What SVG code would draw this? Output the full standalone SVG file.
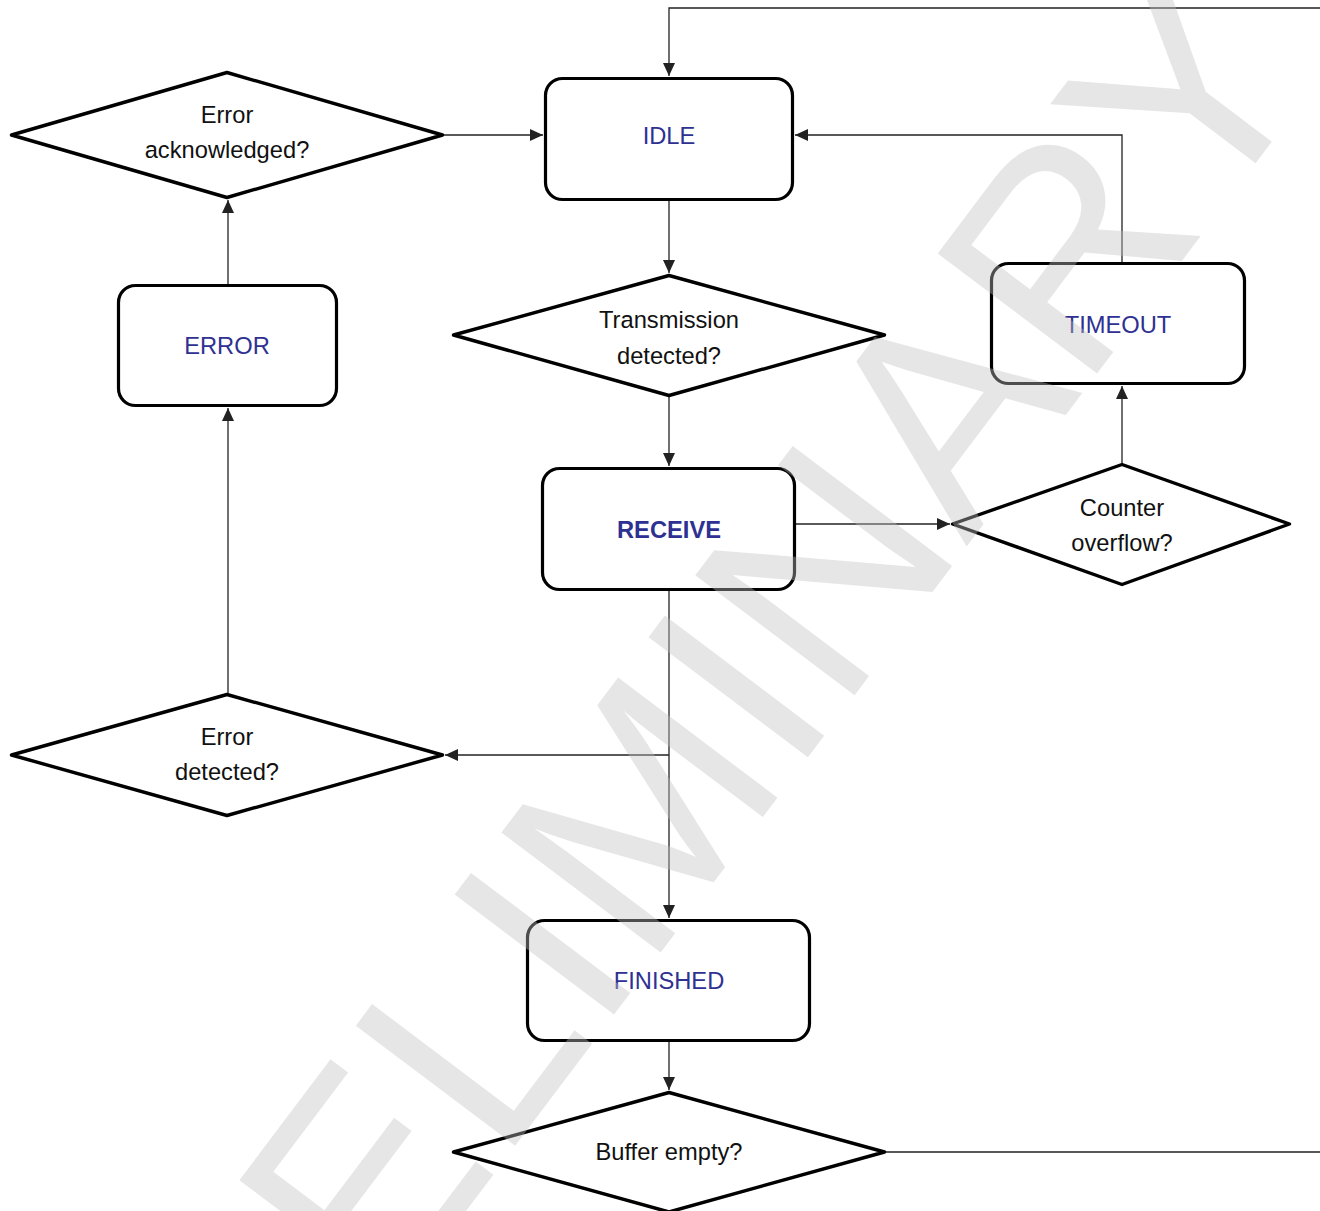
<svg xmlns="http://www.w3.org/2000/svg" width="1320" height="1211" viewBox="0 0 1320 1211">
<style>
.box{fill:#fff;stroke:#000;stroke-width:3.2}
.dia{fill:#fff;stroke:#000;stroke-width:3.4;stroke-linejoin:round}
.lbl{font-family:"Liberation Sans",Arial,sans-serif;font-size:23.7px;fill:#2e3192;text-anchor:middle}
.bold{font-weight:bold}
.q{font-family:"Liberation Sans",Arial,sans-serif;font-size:23.7px;fill:#111;text-anchor:middle}
.con{fill:none;stroke:#222;stroke-width:1.3}
.wm{font-family:"Liberation Sans",Arial,sans-serif;font-size:290px;fill:#c0c0c0;fill-opacity:0.4;text-anchor:middle}
</style>
<defs>
<marker id="arr" markerUnits="userSpaceOnUse" markerWidth="13" markerHeight="12" refX="13" refY="6" orient="auto">
<path d="M0,0 L13,6 L0,12 z" fill="#222"/>
</marker>
</defs>
<rect width="1320" height="1211" fill="#fff"/>
<g id="connectors">
<path class="con" d="M886,1152 H1340 V8 H669 V76" marker-end="url(#arr)"/>
<path class="con" d="M444,135 H543" marker-end="url(#arr)"/>
<path class="con" d="M669,201 V273" marker-end="url(#arr)"/>
<path class="con" d="M669,397 V466" marker-end="url(#arr)"/>
<path class="con" d="M1122,262 V135 H795" marker-end="url(#arr)"/>
<path class="con" d="M1122,463 V386" marker-end="url(#arr)"/>
<path class="con" d="M796,524 H950" marker-end="url(#arr)"/>
<path class="con" d="M669,591 V918" marker-end="url(#arr)"/>
<path class="con" d="M669,755 H445" marker-end="url(#arr)"/>
<path class="con" d="M228,693 V408" marker-end="url(#arr)"/>
<path class="con" d="M228,284 V200" marker-end="url(#arr)"/>
<path class="con" d="M669,1042 V1090" marker-end="url(#arr)"/>
</g>
<g id="n-idle">
<rect class="box" x="545.5" y="78.5" width="247" height="121" rx="17"/>
<text class="lbl" x="669" y="144">IDLE</text>
</g>
<g id="n-error-ack">
<polygon class="dia" points="11.5,135 227,72.5 442.5,135 227,197.5"/>
<text class="q" x="227" y="122.5">Error</text>
<text class="q" x="227" y="157.5">acknowledged?</text>
</g>
<g id="n-error">
<rect class="box" x="118.5" y="285.5" width="218" height="120" rx="17"/>
<text class="lbl" x="227" y="354">ERROR</text>
</g>
<g id="n-transmission">
<polygon class="dia" points="453.5,335 669,275.5 884.5,335 669,395.5"/>
<text class="q" x="669" y="328">Transmission</text>
<text class="q" x="669" y="363.5">detected?</text>
</g>
<g id="n-timeout">
<rect class="box" x="991.5" y="263.5" width="253" height="120" rx="17"/>
<text class="lbl" x="1118" y="333">TIMEOUT</text>
</g>
<g id="n-receive">
<rect class="box" x="542.5" y="468.5" width="252" height="121" rx="17"/>
<text class="lbl bold" x="669" y="538">RECEIVE</text>
</g>
<g id="n-counter">
<polygon class="dia" points="952.5,524 1122,464.5 1289.5,524 1122,584.5"/>
<text class="q" x="1122" y="516">Counter</text>
<text class="q" x="1122" y="551">overflow?</text>
</g>
<g id="n-error-det">
<polygon class="dia" points="11.5,755 227,694.5 442.5,755 227,815.5"/>
<text class="q" x="227" y="745">Error</text>
<text class="q" x="227" y="780">detected?</text>
</g>
<g id="n-finished">
<rect class="box" x="527.5" y="920.5" width="282" height="120" rx="17"/>
<text class="lbl" x="669" y="989">FINISHED</text>
</g>
<g id="n-buffer">
<polygon class="dia" points="453.5,1152 669,1092.5 884.5,1152 669,1212"/>
<text class="q" x="669" y="1160">Buffer empty?</text>
</g>
<g id="watermark">
<text class="wm" transform="translate(732,858) rotate(-53)">PRELIMINARY</text>
</g>
</svg>
